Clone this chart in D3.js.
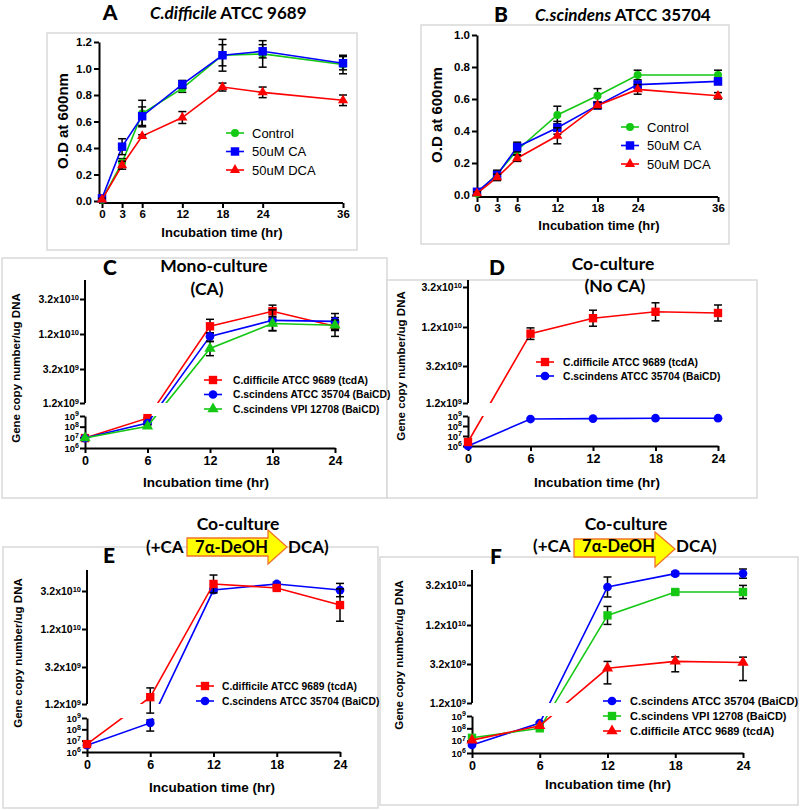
<!DOCTYPE html>
<html><head><meta charset="utf-8">
<script src="https://cdn.jsdelivr.net/npm/d3@7/dist/d3.min.js"></script>
<style>body{margin:0;background:#fff}svg{display:block}</style>
</head><body>
<script>
// ---------------- DATA ----------------
const odTimes = [0, 3, 6, 12, 18, 24, 36];
const odTicksA = [0, 0.2, 0.4, 0.6, 0.8, 1.0, 1.2];
const odTicksB = [0, 0.2, 0.4, 0.6, 0.8, 1.0];
const odNames = ["Control", "50uM CA", "50uM DCA"];

const aControl    = [0.01, 0.29, 0.66, 0.85, 1.10, 1.11, 1.03];
const aControlErr = [0.01, 0.03, 0.10, 0.03, 0.12, 0.10, 0.07];
const aCA         = [0.02, 0.41, 0.64, 0.88, 1.10, 1.13, 1.04];
const aCAErr      = [0.01, 0.06, 0.07, 0.03, 0.08, 0.05, 0.05];
const aDCA        = [0.01, 0.27, 0.49, 0.63, 0.86, 0.82, 0.76];
const aDCAErr     = [0.01, 0.03, 0.01, 0.045, 0.03, 0.04, 0.04];

const bControl    = [0.01, 0.13, 0.28, 0.50, 0.62, 0.75, 0.75];
const bControlErr = [0.01, 0.02, 0.03, 0.055, 0.045, 0.03, 0.03];
const bCA         = [0.02, 0.125, 0.30, 0.42, 0.56, 0.69, 0.71];
const bCAErr      = [0.01, 0.03, 0.03, 0.04, 0.02, 0.02, 0.02];
const bDCA        = [0.01, 0.11, 0.23, 0.37, 0.56, 0.66, 0.62];
const bDCAErr     = [0.01, 0.02, 0.02, 0.05, 0.02, 0.03, 0.02];

const qTimes = [0, 6, 12, 18, 24];
const qUpperTicks = [1.2e9, 3.2e9, 1.2e10, 3.2e10];
const qLowerTicks = [1e6, 1e7, 1e8, 1e9];

const nameCdif = "C.difficile ATCC 9689 (tcdA)";
const nameCsc  = "C.scindens ATCC 35704 (BaiCD)";
const nameVpi  = "C.scindens VPI 12708 (BaiCD)";

// C: mono-culture (CA)
const cCdif    = [8.5e6, 6.3e8, 1.64e10, 2.5e10, 1.64e10];
const cCdifErr = [0, 1e8, 4e9, 3.5e9, 5e9];
const cCsc     = [8.5e6, 2.2e8, 1.14e10, 1.98e10, 1.92e10];
const cCscErr  = [0, 5e7, 1.3e9, 6e9, 4.5e9];
const cVpi     = [8.5e6, 1.1e8, 8.35e9, 1.8e10, 1.7e10];
const cVpiErr  = [0, 3e7, 1.8e9, 4e9, 3e9];
// D: co-culture (No CA)
const dCdif    = [2.5e6, 1.05e10, 1.64e10, 1.96e10, 1.9e10];
const dCdifErr = [0, 1.3e9, 4e9, 4.5e9, 4e9];
const dCsc     = [1e6, 5e8, 5.5e8, 6e8, 6e8];
const dCscErr  = [0, 0, 0, 0, 0];
// E: co-culture (+CA -> DCA)
const eCdif    = [5e6, 1.57e9, 3.57e10, 3.36e10, 2.46e10];
const eCdifErr = [0, 5e8, 4.7e9, 1e9, 8.5e9];
const eCsc     = [4e6, 3.7e8, 3.25e10, 3.57e10, 3.25e10];
const eCscErr  = [0, 3e8, 1e9, 1e9, 3.5e9];
// F: co-culture (+CA -> DCA), three strains
const fCsc     = [4.5e6, 2.7e8, 3.1e10, 3.77e10, 3.77e10];
const fCscErr  = [0, 5e7, 5e9, 1e9, 2.3e9];
const fVpi     = [1.7e7, 1e8, 1.68e10, 2.85e10, 2.85e10];
const fVpiErr  = [0, 0, 4.5e9, 1e9, 3.3e9];
const fCdif    = [1.1e7, 1.6e8, 2.98e9, 3.8e9, 3.55e9];
const fCdifErr = [0, 0, 8e8, 1e9, 1.2e9];

// ---------------- STYLE ----------------
const RED = "#ff0000", BLUE = "#0000ff", GREEN = "#14c814";
const FONT = "'Liberation Sans', Arial, sans-serif";
const TFONT = "Lato, 'Open Sans', sans-serif";

const svg = d3.select("body").append("svg").attr("width", 800).attr("height", 810)
  .style("font-family", FONT);

// panel frames
function frame(x, y, w, h, fill) {
  svg.append("rect").attr("x", x).attr("y", y).attr("width", w).attr("height", h)
    .attr("fill", fill || "none").attr("stroke", "#d9d9d9").attr("stroke-width", 1.5);
}
frame(47, 33, 310, 217);
frame(421, 25, 308, 219);
frame(2, 258, 385, 240);
frame(387, 280, 370, 218, "#fff");
frame(3, 547, 375, 261);
frame(380, 557, 418, 248, "#fff");

function sym(type, size) { return d3.symbol().type(type).size(size)(); }
const SHAPES = { circle: d3.symbolCircle, square: d3.symbolSquare, triangle: d3.symbolTriangle };

function styleAxis(g, fs) {
  g.attr("font-family", null).attr("font-size", null);
  g.selectAll("path,line").attr("stroke", "#000").attr("stroke-width", 2);
  g.selectAll("text").attr("fill", "#000").style("font-weight", "bold").style("font-size", fs + "px");
}

function text(x, y, str, o) {
  o = o || {};
  const t = svg.append("text").attr("x", x).attr("y", y).text(str)
    .attr("text-anchor", o.anchor || "middle")
    .style("font-size", (o.size || 12) + "px")
    .style("font-weight", o.weight || "bold")
    .style("font-family", o.family || FONT)
    .attr("fill", "#000");
  if (o.rotate) t.attr("transform", `rotate(-90,${x},${y})`);
  return t;
}

// ---------------- OD panels (A, B) ----------------
function odPanel(cfg, series) {
  const x = d3.scaleLinear().domain([0, 36]).range([cfg.x0, cfg.x1]);
  const y = d3.scaleLinear().domain([0, cfg.ymax]).range([cfg.y0, cfg.y1]);
  const gy = svg.append("g").attr("transform", `translate(${cfg.ax},0)`)
    .call(d3.axisLeft(y).tickValues(cfg.ticks).tickFormat(d3.format(".1f")).tickSize(5).tickSizeOuter(0).tickPadding(2));
  styleAxis(gy, 11.5);
  const gx = svg.append("g").attr("transform", `translate(0,${cfg.ay})`)
    .call(d3.axisBottom(x).tickValues(odTimes).tickSize(5).tickSizeOuter(0).tickPadding(2));
  gx.select(".domain").remove();
  gx.append("line").attr("x1", cfg.ax).attr("x2", x(36)).attr("y1", 0).attr("y2", 0);
  styleAxis(gx, 11.5);

  series.forEach(s => {
    const pts = s.vals.map((v, i) => ({ t: odTimes[i], v, e: s.err[i] }));
    svg.append("path").datum(pts).attr("fill", "none").attr("stroke", s.color).attr("stroke-width", 1.6)
      .attr("d", d3.line().x(d => x(d.t)).y(d => y(d.v)));
    const eb = svg.append("g").attr("stroke", "#000").attr("stroke-width", 1.5);
    pts.forEach(d => {
      if (!d.e) return;
      const cx = x(d.t), y1 = y(d.v + d.e), y2 = y(Math.max(0, d.v - d.e));
      eb.append("line").attr("x1", cx).attr("x2", cx).attr("y1", y1).attr("y2", y2);
      eb.append("line").attr("x1", cx - 4).attr("x2", cx + 4).attr("y1", y1).attr("y2", y1);
      eb.append("line").attr("x1", cx - 4).attr("x2", cx + 4).attr("y1", y2).attr("y2", y2);
    });
    svg.append("g").selectAll("path").data(pts).join("path")
      .attr("transform", d => `translate(${x(d.t)},${y(d.v)})`)
      .attr("d", sym(SHAPES[s.shape], s.size)).attr("fill", s.color);
  });
  // legend
  series.forEach((s, i) => {
    const ly = cfg.legY + i * cfg.legStep;
    svg.append("line").attr("x1", cfg.legX - 9).attr("x2", cfg.legX + 9).attr("y1", ly).attr("y2", ly)
      .attr("stroke", s.color).attr("stroke-width", 1.6);
    svg.append("path").attr("transform", `translate(${cfg.legX},${ly})`).attr("d", sym(SHAPES[s.shape], s.size)).attr("fill", s.color);
    text(cfg.legX + 17, ly + 4.5, s.name, { anchor: "start", size: 13, weight: "normal" });
  });
}

odPanel({ x0: 102, x1: 343, ax: 99, ay: 203, y0: 201, y1: 42, ymax: 1.2, ticks: odTicksA, legX: 235, legY: 133, legStep: 18.5 }, [
  { name: odNames[0], vals: aControl, err: aControlErr, color: GREEN, shape: "circle", size: 50 },
  { name: odNames[1], vals: aCA, err: aCAErr, color: BLUE, shape: "square", size: 72 },
  { name: odNames[2], vals: aDCA, err: aDCAErr, color: RED, shape: "triangle", size: 45 }
]);

odPanel({ x0: 477, x1: 718, ax: 477, ay: 197, y0: 195, y1: 35, ymax: 1.0, ticks: odTicksB, legX: 630, legY: 127, legStep: 18.5 }, [
  { name: odNames[0], vals: bControl, err: bControlErr, color: GREEN, shape: "circle", size: 50 },
  { name: odNames[1], vals: bCA, err: bCAErr, color: BLUE, shape: "square", size: 72 },
  { name: odNames[2], vals: bDCA, err: bDCAErr, color: RED, shape: "triangle", size: 45 }
]);

// axis titles / headers A,B
text(68, 121, "O.D at 600nm", { size: 15, rotate: true });
text(442, 115, "O.D at 600nm", { size: 15, rotate: true });
text(222, 237, "Incubation time (hr)", { size: 13 });
text(599, 230, "Incubation time (hr)", { size: 13 });
text(110, 20, "A", { size: 21, family: TFONT, weight: 900 });
text(501, 22, "B", { size: 21, family: TFONT, weight: 900 });
{
  const t = text(150, 19, "", { anchor: "start", size: 17, family: TFONT });
  t.append("tspan").style("font-style", "italic").text("C.difficile");
  t.append("tspan").text(" ATCC 9689");
  const t2 = text(535, 21, "", { anchor: "start", size: 17, family: TFONT });
  t2.append("tspan").style("font-style", "italic").text("C.scindens");
  t2.append("tspan").text(" ATCC 35704");
}

// ---------------- qPCR panels (C-F) ----------------
function supLabels(ax, supSize) {
  ax.selectAll(".tick text").each(function (d) {
    const e = Math.floor(Math.log10(d) + 1e-9);
    const m = d / Math.pow(10, e);
    const t = d3.select(this).text(null);
    t.append("tspan").text(Math.abs(m - 1) < 1e-6 ? "10" : m.toFixed(1) + "x10");
    t.append("tspan").attr("dy", "-0.45em").style("font-size", supSize + "px").text(e);
  });
}

let clipN = 0;
function qPanel(cfg, series) {
  const x = d3.scaleLinear().domain([0, 24]).range([cfg.x0, cfg.x1]);
  const yU = d3.scaleLinear().domain(qUpperTicks).range(cfg.up);
  const yL = d3.scaleLog().domain([qLowerTicks[0], qLowerTicks[3]]).range([cfg.bottom, cfg.lowTop]);
  const lowMax = qLowerTicks[3], upMin = qUpperTicks[0];
  const y = v => v >= upMin ? yU(v) : v <= lowMax ? yL(Math.max(v, 1e5))
    : yL(lowMax) + (v - lowMax) / (upMin - lowMax) * (yU(upMin) - yL(lowMax));

  const gu = svg.append("g").attr("transform", `translate(${cfg.x0},0)`)
    .call(d3.axisLeft(yU).tickValues(qUpperTicks).tickSize(5).tickSizeOuter(0).tickPadding(1));
  gu.select(".domain").remove();
  gu.append("line").attr("x1", 0).attr("x2", 0).attr("y1", cfg.top).attr("y2", yU(upMin));
  styleAxis(gu, 10.5);
  supLabels(gu, 7.5);
  const gl = svg.append("g").attr("transform", `translate(${cfg.x0},0)`)
    .call(d3.axisLeft(yL).tickValues(qLowerTicks).tickSize(5).tickSizeOuter(0).tickPadding(1));
  styleAxis(gl, 9.5);
  supLabels(gl, 7);
  const gx = svg.append("g").attr("transform", `translate(0,${cfg.bottom})`)
    .call(d3.axisBottom(x).tickValues(qTimes).tickSize(5).tickSizeOuter(0).tickPadding(3));
  styleAxis(gx, 12.5);

  const id = "clip" + (clipN++);
  const cp = svg.append("clipPath").attr("id", id);
  cp.append("rect").attr("x", cfg.x0 - 10).attr("width", cfg.x1 - cfg.x0 + 30)
    .attr("y", cfg.top - 10).attr("height", yU(upMin) - cfg.top + 10);
  cp.append("rect").attr("x", cfg.x0 - 10).attr("width", cfg.x1 - cfg.x0 + 30)
    .attr("y", yL(lowMax)).attr("height", cfg.bottom - yL(lowMax) + 10);

  series.forEach(s => {
    const pts = s.vals.map((v, i) => ({ t: qTimes[i], v, e: s.err[i] }));
    svg.append("path").datum(pts).attr("clip-path", `url(#${id})`).attr("fill", "none")
      .attr("stroke", s.color).attr("stroke-width", 1.6)
      .attr("d", d3.line().x(d => x(d.t)).y(d => y(d.v)));
    const eb = svg.append("g").attr("stroke", "#000").attr("stroke-width", 1.5);
    pts.forEach(d => {
      if (!d.e) return;
      const cx = x(d.t), y1 = y(d.v + d.e), y2 = y(Math.max(1e5, d.v - d.e));
      eb.append("line").attr("x1", cx).attr("x2", cx).attr("y1", y1).attr("y2", y2);
      eb.append("line").attr("x1", cx - 4).attr("x2", cx + 4).attr("y1", y1).attr("y2", y1);
      eb.append("line").attr("x1", cx - 4).attr("x2", cx + 4).attr("y1", y2).attr("y2", y2);
    });
    svg.append("g").selectAll("path").data(pts).join("path")
      .attr("transform", d => `translate(${x(d.t)},${y(d.v)})`)
      .attr("d", sym(SHAPES[s.shape], s.size)).attr("fill", s.color);
  });
  // legend (order given by cfg.legOrder)
  cfg.legOrder.forEach((k, i) => {
    const s = series[k];
    const ly = cfg.legY + i * cfg.legStep;
    svg.append("line").attr("x1", cfg.legX - 9).attr("x2", cfg.legX + 9).attr("y1", ly).attr("y2", ly)
      .attr("stroke", s.color).attr("stroke-width", 1.6);
    svg.append("path").attr("transform", `translate(${cfg.legX},${ly})`).attr("d", sym(SHAPES[s.shape], s.size)).attr("fill", s.color);
    text(cfg.legX + cfg.legText, ly + 3.8, s.name, { anchor: "start", size: cfg.legSize });
  });
  text(cfg.yTitleX, cfg.yTitleY, "Gene copy number/ug DNA", { size: 11.5, rotate: true });
  text(cfg.xTitleX, cfg.xTitleY, "Incubation time (hr)", { size: 13.5 });
}

const sCdif = (v, e) => ({ name: nameCdif, vals: v, err: e, color: RED, shape: "square", size: 70 });
const sCdifT = (v, e) => ({ name: nameCdif, vals: v, err: e, color: RED, shape: "triangle", size: 55 });
const sCsc = (v, e) => ({ name: nameCsc, vals: v, err: e, color: BLUE, shape: "circle", size: 60 });
const sVpiT = (v, e) => ({ name: nameVpi, vals: v, err: e, color: GREEN, shape: "triangle", size: 55 });
const sVpiS = (v, e) => ({ name: nameVpi, vals: v, err: e, color: GREEN, shape: "square", size: 70 });

qPanel({ x0: 85, x1: 335, top: 280, up: [403, 369, 334, 299], lowTop: 416, bottom: 448,
  legX: 213, legY: 380, legStep: 14.5, legText: 20, legSize: 10.3, legOrder: [0, 1, 2],
  yTitleX: 20, yTitleY: 368, xTitleX: 206, xTitleY: 487 },
  [sCdif(cCdif, cCdifErr), sCsc(cCsc, cCscErr), sVpiT(cVpi, cVpiErr)]);

qPanel({ x0: 468, x1: 718, top: 280, up: [403, 366, 327, 287], lowTop: 416, bottom: 446,
  legX: 545, legY: 362, legStep: 14, legText: 18, legSize: 10.3, legOrder: [1, 0],
  yTitleX: 405, yTitleY: 366, xTitleX: 597, xTitleY: 487 },
  [sCsc(dCsc, dCscErr), sCdif(dCdif, dCdifErr)]);

qPanel({ x0: 87, x1: 340, top: 570, up: [704, 667, 629, 591], lowTop: 718, bottom: 752,
  legX: 205, legY: 686, legStep: 15, legText: 17, legSize: 10.3, legOrder: [1, 0],
  yTitleX: 22, yTitleY: 653, xTitleX: 212, xTitleY: 792 },
  [sCsc(eCsc, eCscErr), sCdif(eCdif, eCdifErr)]);

qPanel({ x0: 472, x1: 743, top: 570, up: [703, 664, 625, 585], lowTop: 716, bottom: 753,
  legX: 612, legY: 701, legStep: 15, legText: 18, legSize: 11, legOrder: [0, 1, 2],
  yTitleX: 403, yTitleY: 655, xTitleX: 608, xTitleY: 789 },
  [sCsc(fCsc, fCscErr), sVpiS(fVpi, fVpiErr), sCdifT(fCdif, fCdifErr)]);

// headers C-F
text(110, 275, "C", { size: 21, family: TFONT, weight: 900 });
text(214, 272, "Mono-culture", { size: 17.5, family: TFONT });
text(207, 295, "(CA)", { size: 17.5, family: TFONT });
text(497, 275, "D", { size: 21, family: TFONT, weight: 900 });
text(613, 270, "Co-culture", { size: 17.5, family: TFONT });
text(615, 292, "(No CA)", { size: 17.5, family: TFONT });
text(109, 563, "E", { size: 21, family: TFONT, weight: 900 });
text(496, 564, "F", { size: 21, family: TFONT, weight: 900 });

function arrowHeader(c) {
  text(c.coX, 530, "Co-culture", { size: 17.5, family: TFONT });
  text(c.left, c.ty, "(+CA", { anchor: "start", size: 17, family: TFONT });
  const p = d3.path();
  p.moveTo(c.a0, c.bt); p.lineTo(c.hb, c.bt); p.lineTo(c.hb, c.ht); p.lineTo(c.tip, c.tipY);
  p.lineTo(c.hb, c.hbot); p.lineTo(c.hb, c.bb); p.lineTo(c.a0, c.bb); p.closePath();
  svg.append("path").attr("d", p.toString()).attr("fill", "#ffff00").attr("stroke", "#f0742a").attr("stroke-width", 1.3);
  text((c.a0 + c.hb) / 2 + 4, c.ty, "7α-DeOH", { size: 16.5, family: TFONT, weight: "bold" });
  text(c.tip + 1, c.ty, "DCA)", { anchor: "start", size: 17, family: TFONT });
}
arrowHeader({ coX: 238, left: 146, ty: 553, a0: 187, bt: 538, bb: 556, hb: 268, ht: 530, hbot: 564, tip: 287, tipY: 547 });
arrowHeader({ coX: 626, left: 533, ty: 552, a0: 574, bt: 539, bb: 557, hb: 655, ht: 532, hbot: 567, tip: 675, tipY: 549 });
</script>
</body></html>
